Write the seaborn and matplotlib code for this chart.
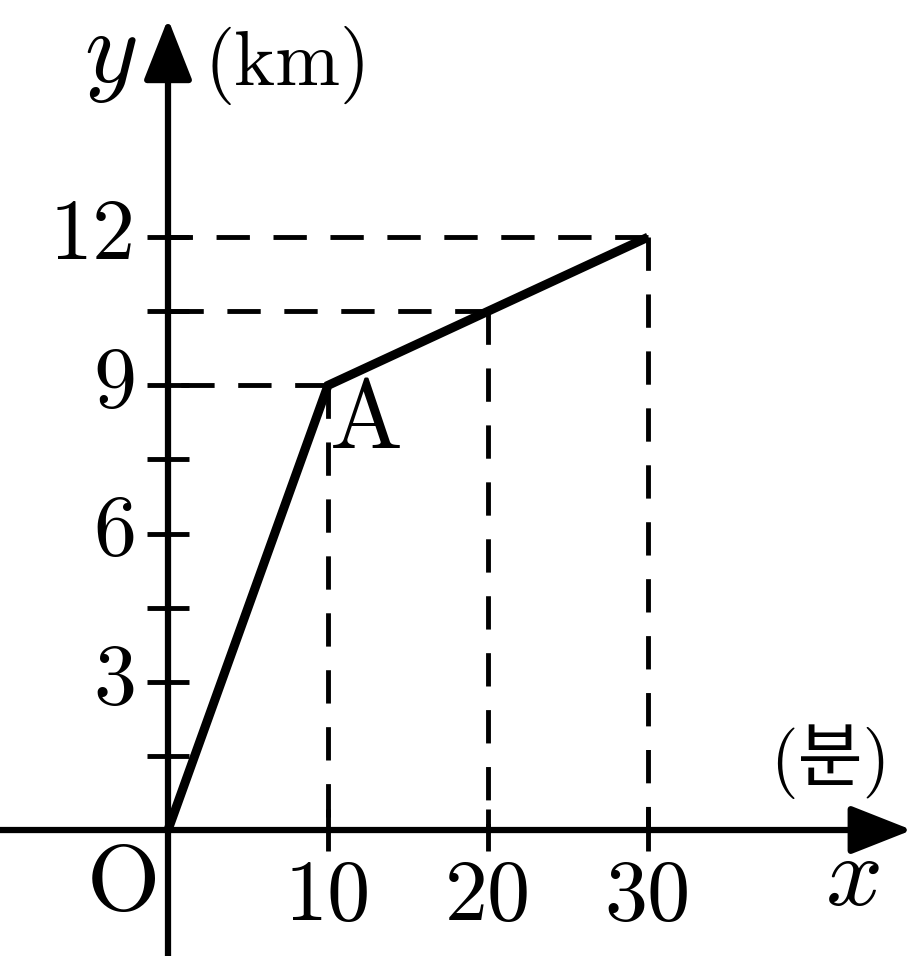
import matplotlib
matplotlib.use("Agg")
import matplotlib.pyplot as plt
import seaborn as sns

# distance (km) travelled against time (분)
minutes = [0, 10, 30]
km = [0, 9, 12]

# points marked with dashed guide lines
guide_x = [10, 20, 30]
guide_y = [9, 10.5, 12]

y_ticks = [1.5, 3, 4.5, 6, 7.5, 9, 10.5, 12]
y_ticklabels = ["", "3", "", "6", "", "9", "", "12"]
x_ticks = [10, 20, 30]
x_ticklabels = ["10", "20", "30"]

sns.set_theme(style="white")
plt.rcParams["mathtext.fontset"] = "cm"
plt.rcParams["font.family"] = ["cmr10", "Noto Sans CJK KR", "DejaVu Sans"]
plt.rcParams["text.color"] = "black"
plt.rcParams["axes.unicode_minus"] = False
plt.rcParams["lines.scale_dashes"] = False

fig = plt.figure(figsize=(9.14, 9.56), dpi=100)
ax = fig.add_axes([0, 0, 1, 1])
ax.set_xlim(-10.5, 46.625)
ax.set_ylim(-2.55, 16.8)

# axes cross at the origin, drawn as arrows below
for side in ["top", "right"]:
    ax.spines[side].set_visible(False)
for side in ["left", "bottom"]:
    ax.spines[side].set_position(("data", 0))
    ax.spines[side].set_visible(False)

ax.set_xticks(x_ticks)
ax.set_xticklabels(x_ticklabels)
ax.set_yticks(y_ticks)
ax.set_yticklabels(y_ticklabels)
ax.tick_params(axis="both", direction="inout", length=30, width=3.5,
               color="black", labelcolor="black", labelsize=62,
               bottom=True, left=True)
ax.tick_params(axis="y", pad=8)
ax.tick_params(axis="x", pad=6)
plt.setp(ax.get_yticklabels(), va="center")

# dashed guides from each marked point to both axes
for gx, gy in zip(guide_x, guide_y):
    ax.plot([gx, 0], [gy, gy], color="black", lw=3.5, dashes=(24, 17), zorder=2)
    ax.plot([gx, gx], [gy, 0], color="black", lw=3.5, dashes=(24, 17), zorder=2)

sns.lineplot(x=minutes, y=km, ax=ax, color="black", linewidth=6.5, zorder=4)
for line in ax.lines[-1:]:
    line.set_solid_joinstyle("miter")
    line.set_solid_capstyle("butt")

# axis arrows
arrow = dict(arrowstyle="-|>,head_length=38,head_width=15", color="black",
             lw=4.5, shrinkA=0, shrinkB=0, mutation_scale=1)
ax.annotate("", xy=(46.5, 0), xytext=(-10.5, 0), arrowprops=arrow, zorder=3)
ax.annotate("", xy=(0, 16.42), xytext=(0, -2.55), arrowprops=arrow, zorder=3)

ax.text(-1.94, 15.15, "$y$", fontsize=74, ha="right", va="baseline")
ax.text(2.31, 15.08, "(km)", fontsize=56, ha="left", va="baseline")
ax.text(41.4, 1.38, "(분)", fontsize=51, ha="center", va="center")
ax.text(42.8, -1.52, "$x$", fontsize=72, ha="center", va="baseline")
ax.text(-2.8, -1.62, "O", fontsize=68, ha="center", va="baseline")
ax.text(12.4, 7.73, "A", fontsize=70, ha="center", va="baseline")

fig.savefig("out.png", dpi=100)
